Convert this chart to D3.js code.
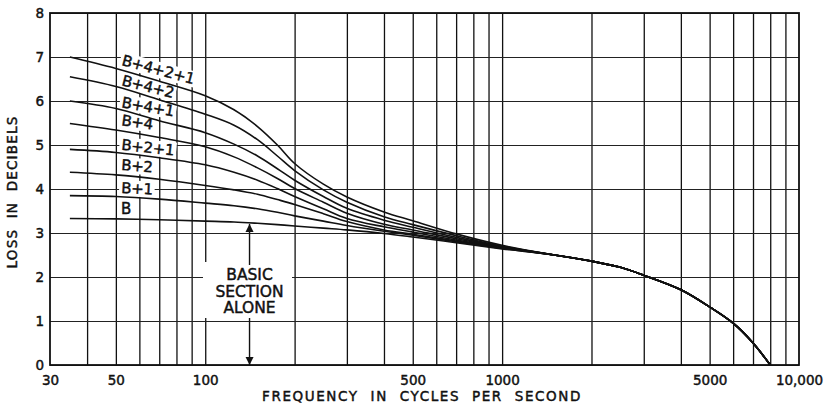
<!DOCTYPE html>
<html lang="en">
<head>
<meta charset="utf-8">
<title>Loss in decibels vs frequency</title>
<script src="https://d3js.org/d3.v7.min.js"></script>
<style>
  body { margin: 0; background: #fff; }
  svg { display: block; }
  text { font-family: "DejaVu Sans", sans-serif; fill: #111; stroke: #111; stroke-width: 0.45px; }
</style>
</head>
<body>
<svg width="831" height="405"></svg>
<script>
// frequencies (cycles per second) where the separate curves were read
const freqs = [35, 50, 70, 100, 125, 150, 175, 200, 250, 300, 400, 500, 700, 1000];
const lossB4211 = [7.00, 6.74, 6.45, 6.12, 5.80, 5.42, 5.00, 4.58, 4.11, 3.82, 3.48, 3.28, 2.98, 2.72];
const lossB442  = [6.55, 6.33, 6.03, 5.70, 5.45, 5.12, 4.75, 4.42, 3.98, 3.70, 3.37, 3.19, 2.94, 2.70];
const lossB441  = [6.00, 5.83, 5.55, 5.28, 5.02, 4.75, 4.46, 4.20, 3.83, 3.56, 3.29, 3.13, 2.90, 2.69];
const lossB4    = [5.49, 5.34, 5.17, 4.96, 4.73, 4.48, 4.24, 4.01, 3.70, 3.45, 3.20, 3.07, 2.87, 2.68];
const lossB21   = [4.90, 4.83, 4.71, 4.55, 4.38, 4.20, 4.01, 3.83, 3.55, 3.33, 3.14, 3.02, 2.84, 2.67];
const lossB2    = [4.38, 4.32, 4.22, 4.08, 3.98, 3.88, 3.76, 3.65, 3.44, 3.26, 3.07, 2.97, 2.82, 2.66];
const lossB1    = [3.85, 3.83, 3.77, 3.68, 3.62, 3.55, 3.47, 3.39, 3.27, 3.17, 3.04, 2.95, 2.80, 2.65];
const lossB     = [3.33, 3.32, 3.30, 3.27, 3.25, 3.22, 3.19, 3.16, 3.11, 3.07, 2.99, 2.91, 2.78, 2.64];

// above ~1000 c/s all curves run together
const tailFreqs = [1500, 2000, 2500, 3000, 4000, 5000, 6000, 7000, 8000];
const tailLoss  = [2.50, 2.36, 2.22, 2.04, 1.71, 1.32, 0.95, 0.50, 0.00];

const curveNames = ["B+4+2+1", "B+4+2", "B+4+1", "B+4", "B+2+1", "B+2", "B+1", "B"];
const curveLosses = [lossB4211, lossB442, lossB441, lossB4, lossB21, lossB2, lossB1, lossB];

// where each curve name sits (frequency, loss) and its tilt
const labelFreq = 52;
const labelLoss = [6.82, 6.36, 5.86, 5.45, 4.89, 4.43, 3.91, 3.43];
const labelTilt = [15, 14, 10, 8, 6, 4, 3, 0];

const gridFreqs = [40, 50, 60, 70, 80, 90, 100, 200, 300, 400, 500, 600, 700, 800, 900,
                   1000, 2000, 3000, 4000, 5000, 6000, 7000, 8000, 9000];
const tickFreqs = [30, 50, 100, 500, 1000, 5000, 10000];
const lossTicks = [0, 1, 2, 3, 4, 5, 6, 7, 8];

const basicFreq = 141;
const basicLoss = 3.23;
const basicText = ["BASIC", "SECTION", "ALONE"];

const plotLeft = 50, plotRight = 799, plotTop = 13, plotBottom = 365;

const svg = d3.select("svg");

const x = d3.scaleLog().domain([30, 10000]).range([plotLeft, plotRight]);
const y = d3.scaleLinear().domain([0, 8]).range([plotBottom, plotTop]);

// grid
svg.append("g")
    .attr("transform", "translate(0," + plotBottom + ")")
    .call(d3.axisBottom(x).tickValues(gridFreqs).tickSize(-(plotBottom - plotTop)).tickFormat(""))
    .call(g => g.select(".domain").remove())
    .call(g => g.selectAll("line").attr("stroke", "#111").attr("stroke-width", 1.3));

svg.append("g")
    .attr("transform", "translate(" + plotLeft + ",0)")
    .call(d3.axisLeft(y).tickValues(lossTicks).tickSize(-(plotRight - plotLeft)).tickFormat(""))
    .call(g => g.select(".domain").remove())
    .call(g => g.selectAll("line").attr("stroke", "#222").attr("stroke-width", 1.1));

// frame
svg.append("rect")
    .attr("x", plotLeft).attr("y", plotTop)
    .attr("width", plotRight - plotLeft).attr("height", plotBottom - plotTop)
    .attr("fill", "none").attr("stroke", "#111").attr("stroke-width", 1.8);

// tick labels
svg.append("g")
    .attr("transform", "translate(0," + plotBottom + ")")
    .call(d3.axisBottom(x).tickValues(tickFreqs).tickSize(0).tickPadding(10)
        .tickFormat(d => d === 10000 ? "10,000" : d3.format("d")(d)))
    .call(g => g.select(".domain").remove())
    .call(g => g.selectAll("text").attr("font-size", 13.5).attr("font-family", "DejaVu Sans"));

svg.append("g")
    .attr("transform", "translate(" + plotLeft + ",0)")
    .call(d3.axisLeft(y).tickValues(lossTicks).tickSize(0).tickPadding(6))
    .call(g => g.select(".domain").remove())
    .call(g => g.selectAll("text").attr("font-size", 13.5).attr("font-family", "DejaVu Sans"));

// axis titles
svg.append("text")
    .attr("x", 422).attr("y", 401)
    .attr("text-anchor", "middle")
    .attr("font-size", 13.5)
    .attr("letter-spacing", 1.6)
    .attr("word-spacing", 6)
    .text("FREQUENCY IN CYCLES PER SECOND");

svg.append("text")
    .attr("transform", "translate(17,192) rotate(-90)")
    .attr("text-anchor", "middle")
    .attr("font-size", 13.5)
    .attr("letter-spacing", 1.2)
    .attr("word-spacing", 5)
    .text("LOSS IN DECIBELS");

// curve name labels with white patches
curveNames.forEach((name, i) => {
    const g = svg.append("g")
        .attr("transform", "translate(" + x(labelFreq) + "," + y(labelLoss[i]) + ") rotate(" + labelTilt[i] + ")");
    const t = g.append("text")
        .attr("font-size", 15)
        .attr("letter-spacing", -0.3)
        .text(name);
    const b = t.node().getBBox();
    g.insert("rect", "text")
        .attr("x", b.x - 2).attr("y", b.y + 1)
        .attr("width", b.width + 4).attr("height", b.height - 2)
        .attr("fill", "#fff")
        .attr("stroke", "none");
});

// curves
const line = d3.line()
    .x(d => x(d[0]))
    .y(d => y(d[1]))
    .curve(d3.curveCatmullRom.alpha(0.5));

curveLosses.forEach(losses => {
    const pts = freqs.map((f, i) => [f, losses[i]])
        .concat(tailFreqs.map((f, i) => [f, tailLoss[i]]));
    svg.append("path")
        .datum(pts)
        .attr("d", line)
        .attr("fill", "none")
        .attr("stroke", "#111")
        .attr("stroke-width", 1.6);
});

// "basic section alone" note
const bx = x(basicFreq);
svg.append("rect")
    .attr("x", 203).attr("y", 262)
    .attr("width", 89).attr("height", 56)
    .attr("fill", "#fff");

basicText.forEach((s, i) => {
    svg.append("text")
        .attr("x", bx).attr("y", 280 + i * 16.7)
        .attr("text-anchor", "middle")
        .attr("font-size", 15.5)
        .text(s);
});

svg.append("defs").append("marker")
    .attr("id", "head")
    .attr("viewBox", "0 0 10 10")
    .attr("refX", 10).attr("refY", 5)
    .attr("markerWidth", 8).attr("markerHeight", 9)
    .attr("markerUnits", "userSpaceOnUse")
    .attr("orient", "auto")
    .append("path")
    .attr("d", "M0,0 L10,5 L0,10 Z")
    .attr("fill", "#111");

svg.append("line")
    .attr("x1", bx).attr("y1", 265).attr("x2", bx).attr("y2", y(basicLoss) + 1)
    .attr("stroke", "#111").attr("stroke-width", 1.4)
    .attr("marker-end", "url(#head)");

svg.append("line")
    .attr("x1", bx).attr("y1", 318).attr("x2", bx).attr("y2", y(0))
    .attr("stroke", "#111").attr("stroke-width", 1.4)
    .attr("marker-end", "url(#head)");
</script>
</body>
</html>
